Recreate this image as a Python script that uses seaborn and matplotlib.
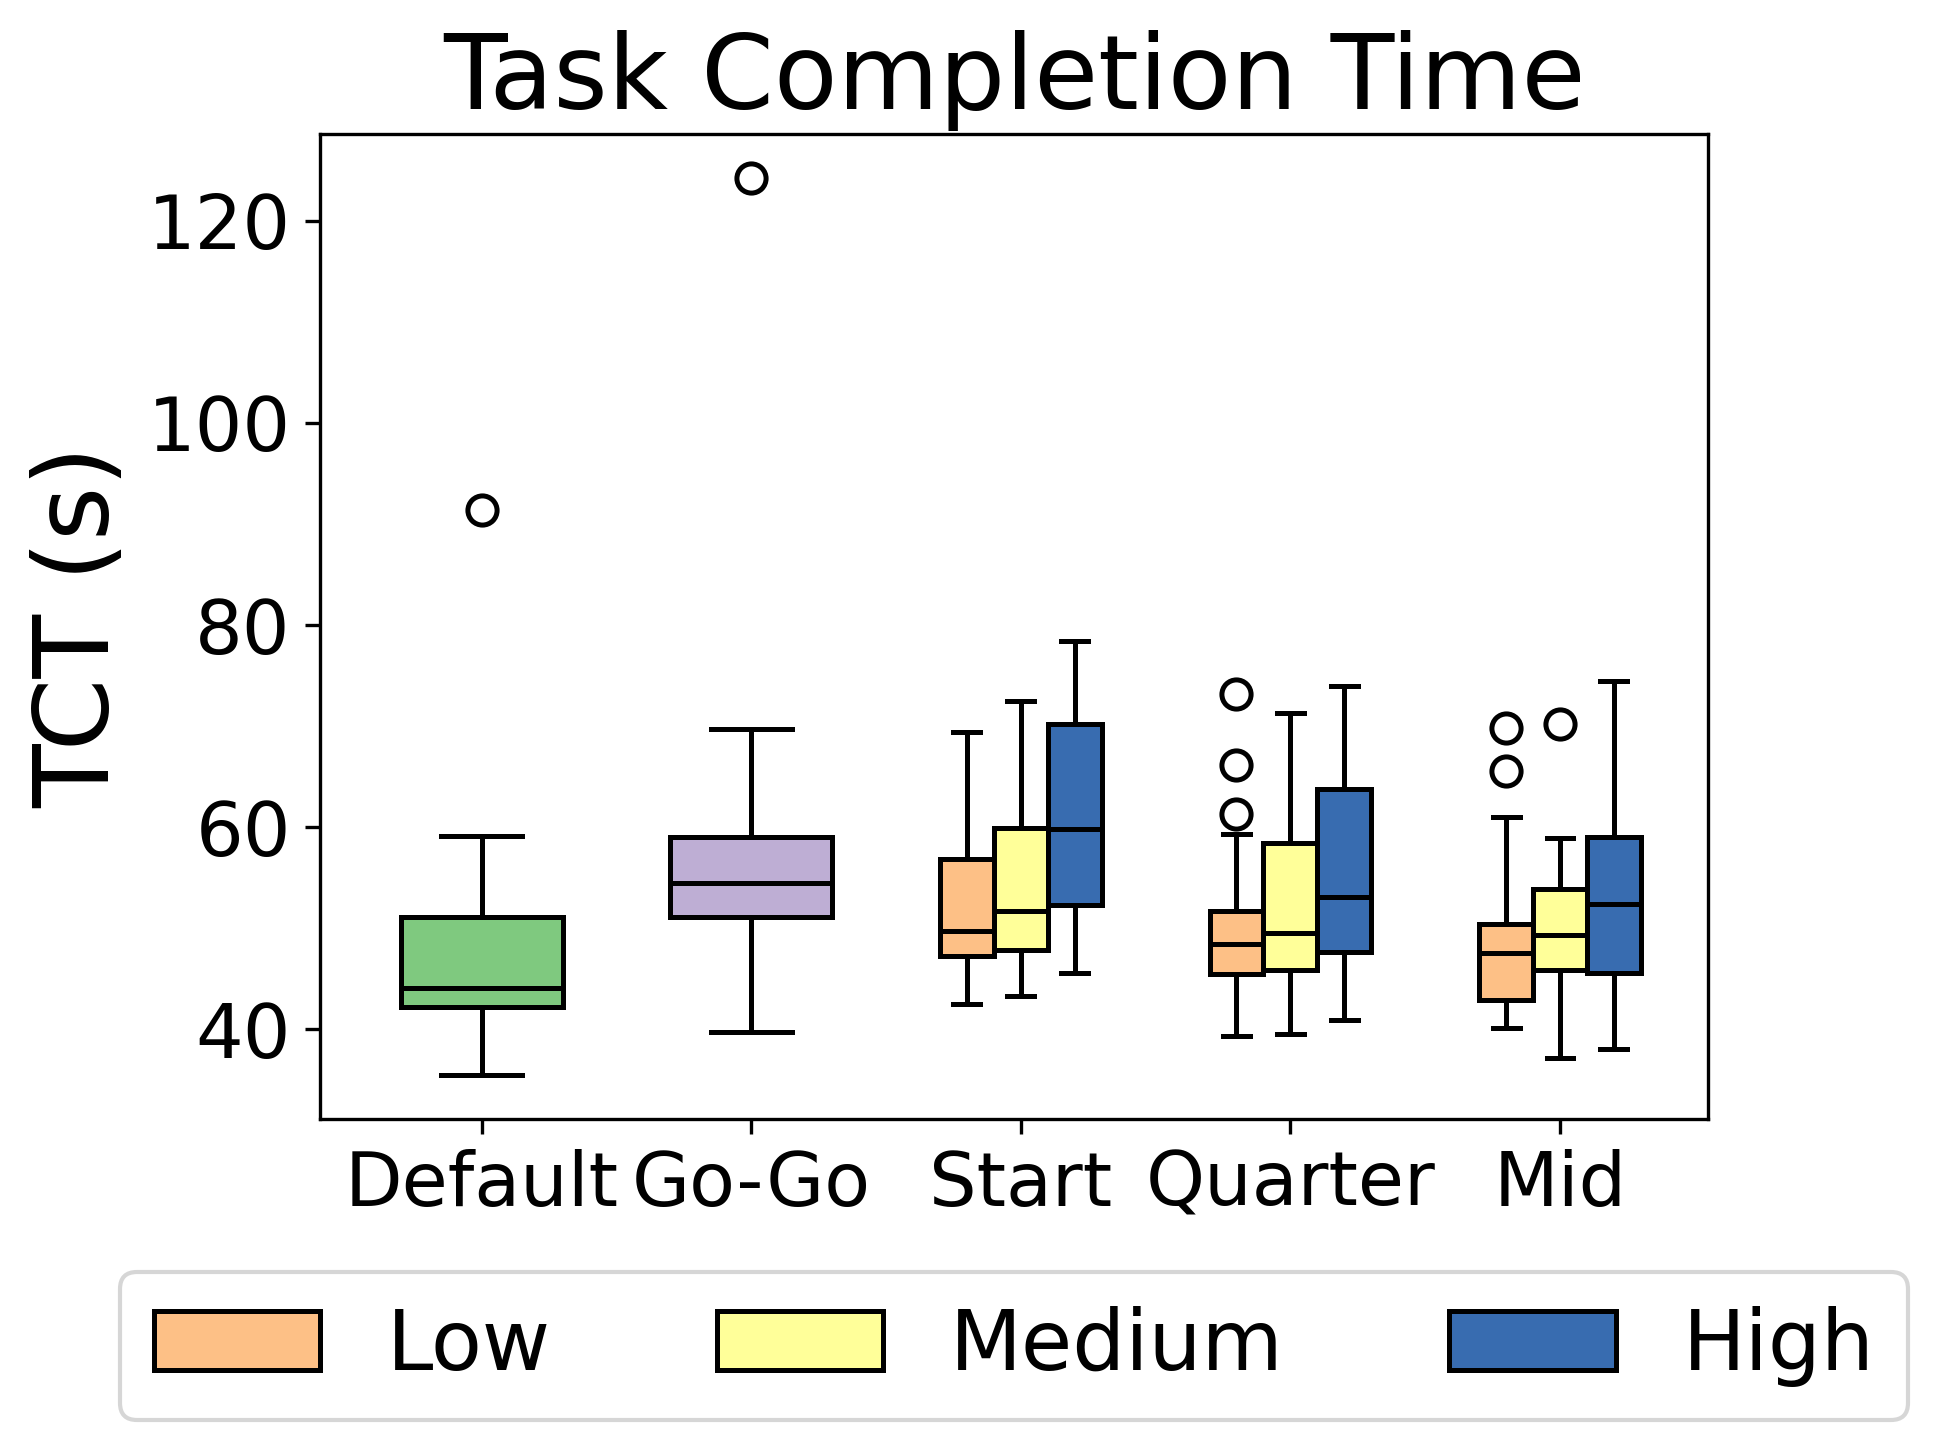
import numpy as np
import pandas as pd
import matplotlib
matplotlib.use("Agg")
import matplotlib.pyplot as plt
import seaborn as sns

# Categories
methods = ["Default", "Go-Go", "Start", "Quarter", "Mid"]
levels = ["Low", "Medium", "High"]

default_tct = [35.5, 40.1, 42.2, 43.3, 44.1, 47.8, 51.1, 59.1, 91.4]
gogo_tct = [39.7, 46.2, 51.1, 52.8, 54.5, 56.9, 59.0, 69.7, 124.2]

start_low = [42.5, 45.3, 47.2, 48.6, 49.7, 53.4, 56.8, 63.1, 69.4]
start_medium = [43.3, 45.9, 47.8, 49.6, 51.7, 55.8, 59.9, 66.2, 72.5]
start_high = [45.6, 49.1, 52.3, 56.2, 59.8, 65.0, 70.2, 74.3, 78.4]

quarter_low = [39.3, 41.8, 43.6, 44.7, 45.5, 46.3, 47.1, 47.8, 48.4,
               49.3, 50.2, 51.0, 51.7, 59.3, 61.3, 66.1, 73.2]
quarter_medium = [39.5, 43.0, 45.9, 47.6, 49.5, 54.0, 58.4, 64.9, 71.3]
quarter_high = [40.9, 44.4, 47.6, 50.4, 53.1, 58.4, 63.8, 68.9, 74.0]

mid_low = [40.1, 41.2, 42.1, 42.9, 44.5, 46.1, 47.5, 48.6, 49.5,
           50.4, 61.0, 65.6, 69.8]
mid_medium = [37.2, 42.0, 45.9, 47.6, 49.3, 51.6, 53.9, 58.9, 70.2]
mid_high = [38.0, 41.8, 45.6, 49.0, 52.4, 55.7, 59.0, 66.7, 74.5]

# Accent palette colours
base_colors = {"Default": "#7fc97f", "Go-Go": "#beaed4"}
level_colors = {"Low": "#fdc086", "Medium": "#ffff99", "High": "#386cb0"}

# Long-form tables
base_rows = []
for m, vals in [("Default", default_tct), ("Go-Go", gogo_tct)]:
    base_rows += [(m, v) for v in vals]
df_base = pd.DataFrame(base_rows, columns=["method", "tct"])

level_data = {
    ("Start", "Low"): start_low, ("Start", "Medium"): start_medium, ("Start", "High"): start_high,
    ("Quarter", "Low"): quarter_low, ("Quarter", "Medium"): quarter_medium, ("Quarter", "High"): quarter_high,
    ("Mid", "Low"): mid_low, ("Mid", "Medium"): mid_medium, ("Mid", "High"): mid_high,
}
lvl_rows = []
for (m, lv), vals in level_data.items():
    lvl_rows += [(m, lv, v) for v in vals]
df_lvl = pd.DataFrame(lvl_rows, columns=["method", "level", "tct"])

fig, ax = plt.subplots(figsize=(1939 / 300, 1452 / 300), dpi=300)
fig.subplots_adjust(left=0.165, right=0.881, top=0.908, bottom=0.229)

box_kw = dict(width=0.6, linewidth=1.2, linecolor="black", saturation=1,
              flierprops=dict(marker="o", markerfacecolor="none", markeredgecolor="black",
                              markersize=7, markeredgewidth=1.2))

sns.boxplot(data=df_base, x="method", y="tct", order=methods, hue="method",
            palette=base_colors, dodge=False, legend=False, ax=ax, **box_kw)
sns.boxplot(data=df_lvl, x="method", y="tct", order=methods, hue="level",
            hue_order=levels, palette=level_colors, dodge=True, ax=ax, **box_kw)

# Move legend under the plot
leg = ax.get_legend()
handles = leg.legend_handles
labels = [t.get_text() for t in leg.texts]
leg.remove()
for h in handles:
    h.set_edgecolor("black")
    h.set_linewidth(1.2)
fig.legend(handles, labels, loc="lower left", bbox_to_anchor=(0.062, 0.022, 0.922, 0.1),
           mode="expand", ncol=3, fontsize=20, frameon=True, borderaxespad=0)

ax.set_xlim(-0.6, 4.55)
ax.set_title("Task Completion Time", fontsize=25)
ax.set_xlabel("")
ax.set_ylabel("TCT (s)", fontsize=25)
ax.tick_params(axis="both", labelsize=18)
ax.set_yticks([40, 60, 80, 100, 120])

fig.savefig("out.png", dpi=300)
